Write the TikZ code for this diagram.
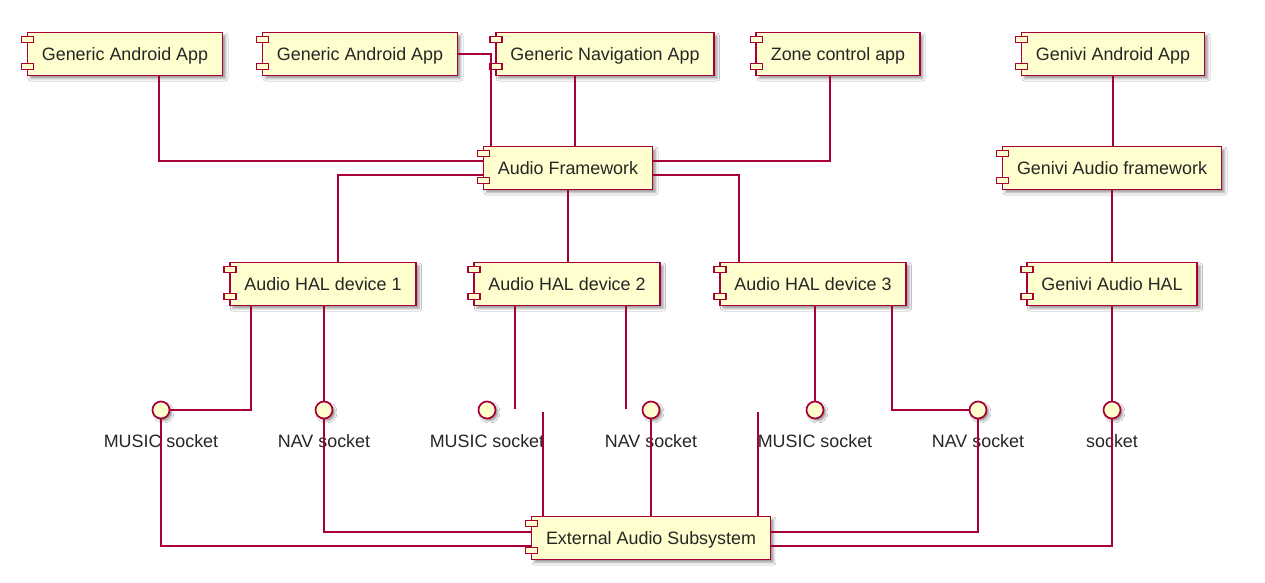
\documentclass[tikz,border=0pt]{standalone}
\usepackage{fontspec}
\setmainfont{Liberation Sans}
\usepackage{xcolor}
\usepackage{tikz}
\usetikzlibrary{shadows.blur}
\definecolor{umlred}{HTML}{A80036}
\definecolor{umlfill}{HTML}{FEFECE}
\newcommand\umlfont{\fontsize{17.9}{21}\selectfont}

\begin{document}
\begin{tikzpicture}[x=1pt, y=-1pt,
	comp/.style={draw=umlred, fill=umlfill, line width=1.7, minimum height=43, inner xsep=14.5, inner ysep=0, text height=12.8, text depth=0, font=\umlfont, text=black!85, blur shadow={shadow xshift=3pt, shadow yshift=-3pt, shadow blur radius=2.5pt, shadow opacity=40}},
	port/.style={draw=umlred, fill=umlfill, line width=1.4},
	sock/.style={circle, draw=umlred, fill=umlfill, line width=1.7, minimum size=17, inner sep=0, blur shadow={shadow xshift=2.5pt, shadow yshift=-2.5pt, shadow blur radius=2pt, shadow opacity=40}},
	sockname/.style={font=\umlfont, text=black!85, inner sep=0, text height=12.8, text depth=0, yshift=-15pt},
	link/.style={draw=umlred, line width=1.1}
]
\fill[white] (0,0) rectangle (1265,582);
\useasboundingbox (0,0) rectangle (1265,582);
% components
\node[comp] (ga1) at (125,54) {Generic Android App};
\node[comp] (ga2) at (360,54) {Generic Android App};
\node[comp] (nav) at (605,54) {Generic Navigation App};
\node[comp] (zone) at (838,54) {Zone control app};
\node[comp] (gapp) at (1113,54) {Genivi Android App};
\node[comp] (af) at (568,168) {Audio Framework};
\node[comp] (gaf) at (1112,168) {Genivi Audio framework};
\node[comp] (hal1) at (323,284) {Audio HAL device 1};
\node[comp] (hal2) at (567,284) {Audio HAL device 2};
\node[comp] (hal3) at (813,284) {Audio HAL device 3};
\node[comp] (ghal) at (1112,284) {Genivi Audio HAL};
\node[comp] (ext) at (651,538) {External Audio Subsystem};
\foreach \n in {ga1,ga2,nav,zone,gapp,af,gaf,hal1,hal2,hal3,ghal,ext} {
	\draw[port] ([shift={(-5,5)}]\n.north west) rectangle ++(12,6);
	\draw[port] ([shift={(-5,-13)}]\n.south west) rectangle ++(12,6);
}
% sockets
\node[sock, label={[sockname]below:MUSIC socket}] (s1) at (161,410) {};
\node[sock, label={[sockname]below:NAV socket}] (s2) at (324,410) {};
\node[sock, label={[sockname]below:MUSIC socket}] (s3) at (487,410) {};
\node[sock, label={[sockname]below:NAV socket}] (s4) at (651,410) {};
\node[sock, label={[sockname]below:MUSIC socket}] (s5) at (815,410) {};
\node[sock, label={[sockname]below:NAV socket}] (s6) at (978,410) {};
\node[sock, label={[sockname]below:socket}] (s7) at (1112,410) {};
% loose ends
\coordinate (d1) at (515,409);
\coordinate (d2) at (626,409);
\coordinate (d3) at (543,412);
\coordinate (d4) at (758,412);
% apps to framework
\draw[link] ([xshift=34]ga1.south) |- ([yshift=7]af.west);
\draw[link] (ga2.east) -| ([xshift=-77]af.north);
\draw[link] ([xshift=7]af.north) -- ([xshift=7]af.north |- nav.south);
\draw[link] ([xshift=-8]zone.south) |- ([yshift=7]af.east);
% framework to HALs
\draw[link] ([yshift=-7]af.west) -| ([xshift=15]hal1.north);
\draw[link] (af.south) -- (af.south |- hal2.north);
\draw[link] ([yshift=-7]af.east) -| ([xshift=-74]hal3.north);
% genivi stack
\draw[link] (gapp.south) -- (gapp.south |- gaf.north);
\draw[link] (gaf.south) -- (ghal.north);
\draw[link] (ghal.south) -- (s7.north);
% HALs to sockets
\draw[link] ([xshift=-72]hal1.south) |- (s1.east);
\draw[link] (s2.north |- hal1.south) -- (s2.north);
\draw[link] (d1 |- hal2.south) -- (d1);
\draw[link] (d2 |- hal2.south) -- (d2);
\draw[link] (s5.north |- hal3.south) -- (s5.north);
\draw[link] ([xshift=79]hal3.south) |- (s6.west);
% sockets to external
\draw[link] (s1.south) |- ([yshift=-8]ext.west);
\draw[link] (s2.south) |- ([yshift=6]ext.west);
\draw[link] (d3) -- (d3 |- ext.north);
\draw[link] (s4.south) -- (s4.south |- ext.north);
\draw[link] (d4) -- (d4 |- ext.north);
\draw[link] (s6.south) |- ([yshift=6]ext.east);
\draw[link] (s7.south) |- ([yshift=-8]ext.east);
\end{tikzpicture}
\end{document}
